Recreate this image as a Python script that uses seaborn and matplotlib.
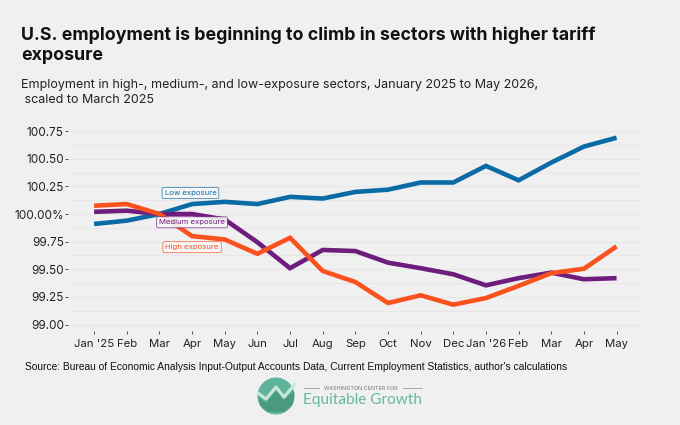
import matplotlib
matplotlib.use("Agg")
import matplotlib.pyplot as plt
from matplotlib.patches import Circle, Polygon
import pandas as pd
import seaborn as sns

months = ["Jan '25", "Feb", "Mar", "Apr", "May", "Jun", "Jul", "Aug", "Sep",
          "Oct", "Nov", "Dec", "Jan '26", "Feb ", "Mar ", "Apr ", "May "]
low = [99.91, 99.94, 100.0, 100.09, 100.11, 100.09, 100.155, 100.14, 100.2,
       100.22, 100.285, 100.285, 100.435, 100.305, 100.465, 100.61, 100.69]
medium = [100.02, 100.03, 100.0, 100.0, 99.95, 99.745, 99.51, 99.675, 99.665,
          99.56, 99.51, 99.455, 99.355, 99.42, 99.47, 99.41, 99.42]
high = [100.075, 100.09, 100.0, 99.80, 99.77, 99.64, 99.785, 99.485, 99.385,
        99.195, 99.265, 99.18, 99.24, 99.35, 99.465, 99.505, 99.707]

y_ticks = [99.0, 99.25, 99.5, 99.75, 100.0, 100.25, 100.5, 100.75]
y_labels = ["99.00", "99.25", "99.50", "99.75", "100.00%", "100.25", "100.50", "100.75"]
y_minor = [99.125, 99.375, 99.625, 99.875, 100.125, 100.375, 100.625]

BG = "#f0f0f1"
BLUE = "#0a6ba5"
PURPLE = "#6f1d7d"
ORANGE = "#f9521e"
FONT = ["Inter", "DejaVu Sans"]

df = pd.DataFrame({"month": months, "Low exposure": low,
                   "Medium exposure": medium, "High exposure": high})
long_df = df.melt("month", var_name="series", value_name="value")

sns.set_theme(style="white")
plt.rcParams["font.family"] = FONT

W, H = 680, 425
fig = plt.figure(figsize=(W / 100, H / 100), dpi=100, facecolor=BG)
ax = fig.add_axes([68 / W, 1 - 331 / H, (644 - 68) / W, (331 - 125) / H], facecolor=BG)

sns.lineplot(data=long_df, x="month", y="value", hue="series", sort=False,
             hue_order=["Low exposure", "Medium exposure", "High exposure"],
             palette=[BLUE, PURPLE, ORANGE], linewidth=3.3, legend=False, ax=ax)
for line in ax.get_lines():
    line.set_solid_joinstyle("miter")
    line.set_solid_capstyle("butt")

ax.set_xlim(-0.8, 16.84)
ax.set_ylim(98.942, 100.805)
ax.set_yticks(y_ticks)
ax.set_yticklabels(y_labels)
ax.set_yticks(y_minor, minor=True)
ax.set_xticks(range(len(months)))
ax.set_xticklabels([m.strip() for m in months])
ax.set_xlabel("")
ax.set_ylabel("")
ax.grid(True, axis="y", which="both", color="#e7e7e8", linewidth=0.8)
ax.set_axisbelow(True)
sns.despine(ax=ax, left=True, bottom=True)
ax.tick_params(axis="y", which="major", length=2, width=0.7, color="#555555",
               labelsize=8.5, labelcolor="#222222", pad=1, left=True)
ax.tick_params(axis="y", which="minor", length=0)
ax.tick_params(axis="x", length=2, width=0.7, color="#555555",
               labelsize=8.2, labelcolor="#222222", pad=4, bottom=True)

# direct labels sit in data coordinates
for text, x, y, col in [("Low exposure", 2.95, 100.19, BLUE),
                        ("Medium exposure", 3.0, 99.925, PURPLE),
                        ("High exposure", 3.0, 99.70, ORANGE)]:
    ax.annotate(text, (x, y), ha="center", va="center", fontsize=5.6, color=col,
                bbox=dict(boxstyle="round,pad=0.32,rounding_size=0.2",
                          fc="#f7f7f8", ec=col, lw=0.5, alpha=0.9), zorder=5)

fig.text(21 / W, 1 - 35 / H, "U.S. employment is beginning to climb in sectors with higher tariff",
         fontsize=12.8, fontweight="bold", color="#111111", va="center")
fig.text(21 / W, 1 - 56 / H, "exposure", fontsize=12.8, fontweight="bold",
         color="#111111", va="center")
fig.text(21 / W, 1 - 85 / H, "Employment in high-, medium-, and low-exposure sectors, January 2025 to May 2026,",
         fontsize=9.0, color="#222222", va="center")
fig.text(21 / W, 1 - 100 / H, " scaled to March 2025", fontsize=9.0, color="#222222", va="center")
fig.text(25 / W, 1 - 367 / H,
         "Source: Bureau of Economic Analysis Input-Output Accounts Data, Current Employment Statistics, author's calculations",
         fontsize=7.43, family="Liberation Sans", color="#111111", va="center")

# logo
logo = fig.add_axes([0, 0, 1, 1], facecolor="none")
logo.set_xlim(0, W)
logo.set_ylim(H, 0)
logo.axis("off")
circle = Circle((276, 396), 18.5, fc="#5fb39b", ec="none")
logo.add_patch(circle)
lower = Polygon([(258, 397), (266, 403), (276, 391), (284, 400), (295, 390),
                 (293, 405), (284, 412), (268, 412), (260, 406)], fc="#4a9a82", ec="none")
logo.add_patch(lower)
lower.set_clip_path(circle)
logo.plot([258, 266, 276, 284, 295], [393, 399, 387, 397, 384], color="#c9e8dc", lw=2.2)
logo.plot([304, 319], [388, 388], color="#9a9a9a", lw=0.6)
logo.plot([403, 422], [388, 388], color="#9a9a9a", lw=0.6)
logo.text(361, 388.3, "WASHINGTON CENTER FOR", fontsize=3.9, color="#777777",
          ha="center", va="center")
logo.text(303, 400, "Equitable Growth", fontsize=11.1, color="#68b8a2", ha="left", va="center",
          family=["Lato", "DejaVu Sans"])

fig.savefig("out.png", dpi=100, facecolor=BG)
